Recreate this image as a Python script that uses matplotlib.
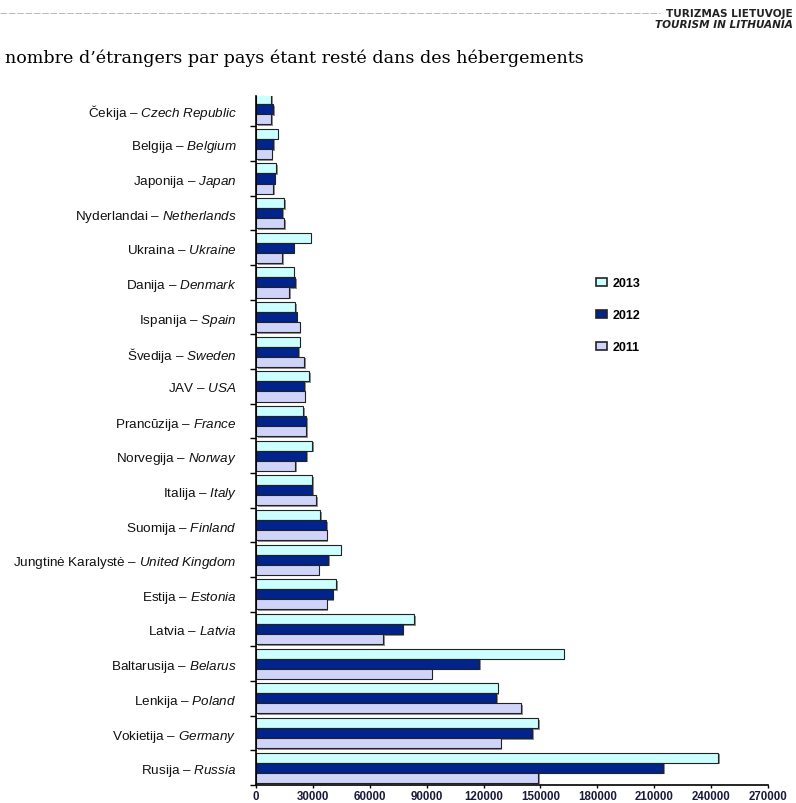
import numpy as np
import matplotlib.pyplot as plt
import matplotlib.patheffects as pe
from matplotlib.patches import Patch

# countries, bottom (Russia) to top (Czech Republic)
lt_names = ["Rusija", "Vokietija", "Lenkija", "Baltarusija", "Latvia", "Estija",
            "Jungtinė Karalystė", "Suomija", "Italija", "Norvegija", "Prancūzija",
            "JAV", "Švedija", "Ispanija", "Danija", "Ukraina", "Nyderlandai",
            "Japonija", "Belgija", "Čekija"]
en_names = ["Russia", "Germany", "Poland", "Belarus", "Latvia", "Estonia",
            "United Kingdom", "Finland", "Italy", "Norway", "France",
            "USA", "Sweden", "Spain", "Denmark", "Ukraine", "Netherlands",
            "Japan", "Belgium", "Czech Republic"]

v2013 = [243700, 148700, 127500, 162300, 83400, 42200, 44700, 33800, 29700, 29700,
         24800, 28200, 23000, 20600, 19900, 28900, 15000, 10600, 11400, 8100]
v2012 = [214600, 145700, 126800, 117700, 77300, 40500, 38000, 37100, 29700, 26400,
         26400, 25500, 22400, 21500, 20800, 19900, 13900, 9900, 9000, 9000]
v2011 = [148700, 129100, 140000, 92700, 67000, 37300, 33100, 37300, 31700, 20600,
         26400, 25700, 25500, 23100, 17400, 13900, 15000, 9000, 8300, 8100]

years = ["2013", "2012", "2011"]
colors = ["#CCFFFF", "#00238C", "#D0D4F8"]
xticks = [0, 30000, 60000, 90000, 120000, 150000, 180000, 210000, 240000, 270000]

plt.rcParams['font.family'] = ['Liberation Sans', 'DejaVu Sans']
plt.rcParams['mathtext.fontset'] = 'custom'
plt.rcParams['mathtext.rm'] = 'Liberation Sans'
plt.rcParams['mathtext.it'] = 'Liberation Sans:italic'

fig = plt.figure(figsize=(7.96, 8.04), dpi=100)
ax = fig.add_axes([256/796, 1 - 786/804, (768 - 256)/796, (786 - 97)/804])

y = np.arange(len(lt_names))
h = 0.29
shadow = [pe.SimplePatchShadow(offset=(1.2, -1.2), shadow_rgbFace='#777777', alpha=0.8), pe.Normal()]
for k, (vals, c) in enumerate(zip([v2013, v2012, v2011], colors)):
    bars = ax.barh(y + (1 - k) * h, vals, height=h, color=c, edgecolor='#222222',
                   linewidth=0.8, label=years[k])
    for b in bars:
        b.set_path_effects(shadow)

labels = [f"{lt} – $\\mathit{{{en.replace(' ', '\\ ')}}}$" for lt, en in zip(lt_names, en_names)]
ax.set_yticks(y)
ax.set_yticklabels(labels, fontsize=9.7, color='#111111')
ax.set_yticks(np.arange(-0.5, len(lt_names), 1.0), minor=True)
ax.tick_params(axis='y', which='major', length=0, pad=14)
ax.tick_params(axis='y', which='minor', length=4, width=1, direction='out')
ax.set_ylim(-0.5, 19.38)

ax.set_xlim(0, 270000)
ax.set_xticks(xticks)
ax.set_xticklabels([str(t) for t in xticks], fontsize=8.3, fontweight='bold', color='#1a1a3a')
ax.tick_params(axis='x', length=2, width=1, pad=1.5)

for s in ['top', 'right']:
    ax.spines[s].set_visible(False)
ax.spines['left'].set_linewidth(1.2)
ax.spines['bottom'].set_linewidth(1.2)

handles = [Patch(facecolor=c, edgecolor='#222222', linewidth=1.2) for c in colors]
fig.legend(handles, years, loc='upper left', bbox_to_anchor=(590/796, 1 - 272/804),
           frameon=False, prop={'weight': 'bold', 'size': 9.0},
           handlelength=0.85, handleheight=0.55, handletextpad=0.45, labelspacing=1.6,
           borderpad=0)

# page header and title
fig.lines.append(plt.Line2D([0, 660/796], [1 - 14/804, 1 - 14/804], transform=fig.transFigure,
                            color='#b0b0b0', linewidth=0.6, linestyle=(0, (8, 2))))
fig.text(793/796, 1 - 14/804, "TURIZMAS LIETUVOJE", ha='right', va='center',
         fontsize=7.6, fontweight='bold', color='#222222', family='DejaVu Sans')
fig.text(793/796, 1 - 24.5/804, "TOURISM IN LITHUANIA", ha='right', va='center',
         fontsize=7.6, fontweight='bold', fontstyle='italic', color='#222222', family='DejaVu Sans')
fig.text(5/796, 1 - 58/804, "nombre d’étrangers par pays étant resté dans des hébergements",
         ha='left', va='center', fontsize=12.6, family='DejaVu Serif')

fig.savefig("out.png", dpi=100)
